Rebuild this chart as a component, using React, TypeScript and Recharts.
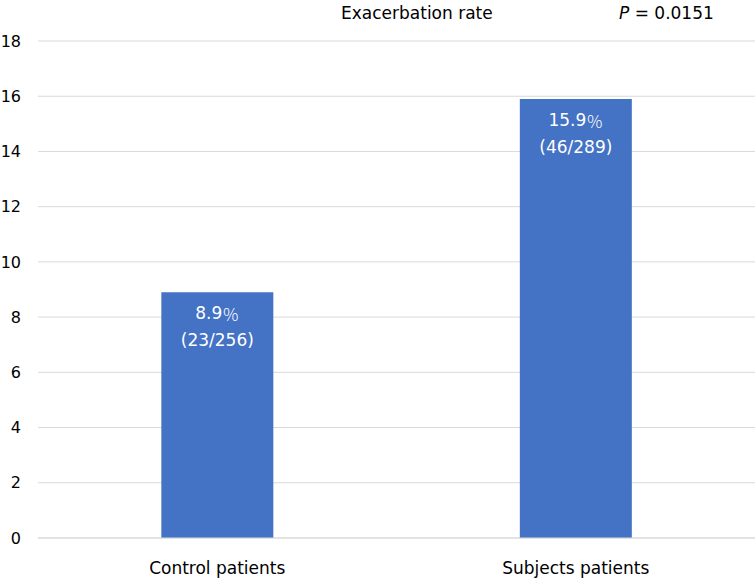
import React from 'react';
import { BarChart, Bar, XAxis, YAxis, CartesianGrid, LabelList } from 'recharts';

const categories = ['Control patients', 'Subjects patients'];
const rates = [8.9, 15.9];
const counts = ['(23/256)', '(46/289)'];
const yTicks = [0, 2, 4, 6, 8, 10, 12, 14, 16, 18];

const data = categories.map((name, i) => ({ name, rate: rates[i], count: counts[i] }));

const FONT = '"DejaVu Sans", sans-serif';
const FS = 17;

const InsideLabel = (props: any) => {
  const { x, y, width, index } = props;
  const cx = x + width / 2;
  return (
    <g>
      <text x={cx} y={y + 21} textAnchor="middle" dominantBaseline="central" fill="#ffffff" fontSize={FS} fontFamily={FONT}>
        {rates[index].toFixed(1)}
        <tspan fontFamily='"Noto Sans CJK JP", sans-serif' fontWeight={300}>％</tspan>
      </text>
      <text x={cx} y={y + 48} textAnchor="middle" dominantBaseline="central" fill="#ffffff" fontSize={FS} fontFamily={FONT}>
        {counts[index]}
      </text>
    </g>
  );
};

export default function App() {
  return (
    <div style={{ position: 'absolute', left: 0, top: 0, width: 756, height: 580, background: '#fff' }}>
      <BarChart width={756} height={580} data={data} margin={{ top: 41, right: 1, left: 0, bottom: 0 }} barCategoryGap="34.4%">
        <CartesianGrid vertical={false} stroke="#d9d9d9" />
        <XAxis
          dataKey="name"
          tickLine={false}
          axisLine={{ stroke: '#d9d9d9' }}
          tick={{ fill: '#000', fontSize: FS, fontFamily: FONT }}
          tickMargin={18}
          height={42}
        />
        <YAxis
          domain={[0, 18]}
          ticks={yTicks}
          interval={0}
          tickLine={false}
          axisLine={false}
          width={38}
          tickMargin={11}
          tick={{ fill: '#000', fontSize: 16, fontFamily: FONT }}
        />
        <Bar dataKey="rate" fill="#4472C4" isAnimationActive={false}>
          <LabelList dataKey="rate" content={<InsideLabel />} />
        </Bar>
      </BarChart>
      <div style={{ position: 'absolute', left: 341, top: 3, fontFamily: FONT, fontSize: FS, color: '#000', whiteSpace: 'nowrap', lineHeight: '20px' }}>
        Exacerbation rate
      </div>
      <div style={{ position: 'absolute', left: 619, top: 3, fontFamily: FONT, fontSize: FS, color: '#000', whiteSpace: 'nowrap', lineHeight: '20px' }}>
        <i>P</i> = 0.0151
      </div>
    </div>
  );
}
